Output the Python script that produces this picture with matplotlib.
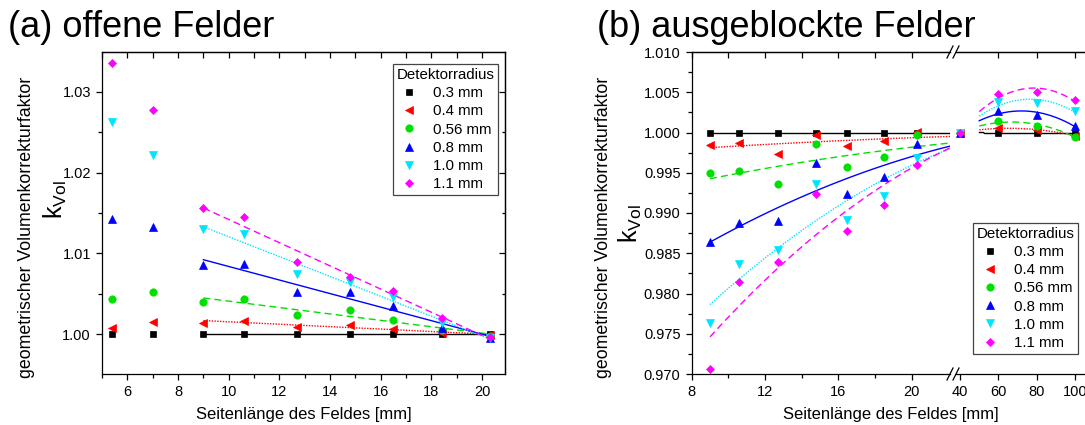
import numpy as np
import matplotlib
matplotlib.use('Agg')
import matplotlib.pyplot as plt
from matplotlib.lines import Line2D
from matplotlib.ticker import MultipleLocator, FixedLocator

plt.rcParams['font.family'] = ['Liberation Sans', 'DejaVu Sans']
plt.rcParams['mathtext.default'] = 'regular'
plt.rcParams['axes.linewidth'] = 0.9

# (a) offene Felder
x_a = [5.4, 7.0, 9.0, 10.6, 12.7, 14.8, 16.5, 18.4, 20.3]
k_a_03 = [1.00000, 1.00000, 1.00000, 1.00000, 1.00000, 1.00000, 1.00000, 1.00000, 1.00000]
k_a_04 = [1.00082, 1.00156, 1.00144, 1.00168, 1.00094, 1.00119, 1.00066, 1.00020, 0.99985]
k_a_056 = [1.00437, 1.00523, 1.00403, 1.00437, 1.00243, 1.00300, 1.00177, 1.00050, 0.99980]
k_a_08 = [1.01425, 1.01322, 1.00861, 1.00870, 1.00523, 1.00523, 1.00347, 1.00078, 0.99960]
k_a_10 = [1.02621, 1.02213, 1.01300, 1.01239, 1.00742, 1.00644, 1.00465, 1.00136, 0.99950]
k_a_11 = [1.03351, 1.02770, 1.01557, 1.01446, 1.00891, 1.00709, 1.00535, 1.00198, 0.99965]

# (b) ausgeblockte Felder
x_b = [9.0, 10.6, 12.7, 14.8, 16.5, 18.5, 20.3, 40, 60, 80, 100]
k_b_03 = [1.00000, 1.00000, 1.00000, 1.00000, 1.00000, 1.00000, 1.00000, 1.00000, 1.00000, 1.00000, 1.00000]
k_b_04 = [0.99842, 0.99875, 0.99730, 0.99967, 0.99834, 0.99896, 1.00010, 1.00000, 1.00055, 1.00030, 0.99960]
k_b_056 = [0.99500, 0.99521, 0.99355, 0.99863, 0.99575, 0.99700, 0.99967, 1.00000, 1.00138, 1.00084, 0.99946]
k_b_08 = [0.98634, 0.98875, 0.98896, 0.99625, 0.99230, 0.99446, 0.99854, 1.00000, 1.00263, 1.00220, 1.00080]
k_b_10 = [0.97634, 0.98363, 0.98542, 0.99363, 0.98909, 0.99209, 0.99688, 1.00000, 1.00375, 1.00367, 1.00263]
k_b_11 = [0.97063, 0.98146, 0.98396, 0.99242, 0.98771, 0.99105, 0.99596, 1.00000, 1.00480, 1.00500, 1.00400]

labels = ['0.3 mm', '0.4 mm', '0.56 mm', '0.8 mm', '1.0 mm', '1.1 mm']
colors = ['#000000', '#ff0000', '#00e000', '#0000ff', '#00e5ff', '#ff00ff']
markers = ['s', '<', 'o', '^', 'v', 'D']
msizes = [4.3, 6.0, 5.3, 6.0, 6.0, 4.4]
lstyles = ['-', (0, (1, 1)), (0, (5, 3)), '-', (0, (1, 1)), (0, (5, 3))]

series_a = [k_a_03, k_a_04, k_a_056, k_a_08, k_a_10, k_a_11]
series_b = [k_b_03, k_b_04, k_b_056, k_b_08, k_b_10, k_b_11]

W, H = 1085, 425
fig = plt.figure(figsize=(W / 100, H / 100), dpi=100)

def px_rect(x0, y0, x1, y1):
    return [x0 / W, 1 - y1 / H, (x1 - x0) / W, (y1 - y0) / H]

ax_a = fig.add_axes(px_rect(102, 52, 505, 374))
ax_b1 = fig.add_axes(px_rect(691.7, 52, 950, 374))
ax_b2 = fig.add_axes(px_rect(956, 52, 1090, 374))

tick_kw = dict(labelsize=10.5, width=0.9)

def mirror_x(ax, major, minor):
    top = ax.secondary_xaxis('top')
    top.xaxis.set_major_locator(FixedLocator(major))
    top.xaxis.set_minor_locator(FixedLocator(minor))
    top.tick_params(which='both', direction='in', labeltop=False, width=0.9)
    top.tick_params(which='major', length=4.0)
    top.tick_params(which='minor', length=4.0)
    top.spines['top'].set_linewidth(0.9)

def mirror_y(ax, major, minor):
    r = ax.secondary_yaxis('right')
    r.yaxis.set_major_locator(FixedLocator(major))
    r.yaxis.set_minor_locator(FixedLocator(minor))
    r.tick_params(which='both', direction='in', labelright=False, width=0.9)
    r.tick_params(which='major', length=4.0)
    r.tick_params(which='minor', length=2.5)

# ---- panel (a)
xa = np.array(x_a)
for k, c, m, ms, ls in zip(series_a, colors, markers, msizes, lstyles):
    k = np.array(k)
    sel = xa >= 9
    p = np.polyfit(xa[sel], k[sel], 1)
    xf = np.linspace(9.0, 20.3, 50)
    ax_a.plot(xf, np.polyval(p, xf), color=c, ls=ls, lw=1.0, zorder=2)
for k, c, m, ms in zip(series_a, colors, markers, msizes):
    ax_a.plot(x_a, k, ls='none', marker=m, ms=ms, color=c, mec=c, mew=0.5, zorder=3)

ax_a.set_xlim(5.0, 20.9)
ax_a.set_ylim(0.99509, 1.0349)
ax_a.xaxis.set_major_locator(MultipleLocator(2))
ax_a.xaxis.set_minor_locator(MultipleLocator(1))
ax_a.yaxis.set_major_locator(MultipleLocator(0.01))
ax_a.yaxis.set_minor_locator(MultipleLocator(0.005))
ax_a.yaxis.set_major_formatter(plt.FuncFormatter(lambda v, p: '%.2f' % v))
ax_a.tick_params(which='both', direction='out', **tick_kw)
ax_a.tick_params(which='major', length=4.5)
ax_a.tick_params(which='minor', length=3)
mirror_x(ax_a, np.arange(6, 21, 2), np.arange(5, 21, 2))
mirror_y(ax_a, [1.00, 1.01, 1.02, 1.03], [0.995, 1.005, 1.015, 1.025])

# ---- panel (b), broken x axis
xb = np.array(x_b)
for k, c, m, ms, ls in zip(series_b, colors, markers, msizes, lstyles):
    k = np.array(k)
    sel1 = xb <= 40
    p1 = np.polyfit(xb[sel1], k[sel1], 2)
    xf1 = np.linspace(9.0, 22.1, 60)
    ax_b1.plot(xf1, np.polyval(p1, xf1), color=c, ls=ls, lw=1.0, zorder=2)
    sel2 = xb >= 40
    p2 = np.polyfit(xb[sel2], k[sel2], 2)
    xf2 = np.linspace(50, 100, 60)
    ax_b2.plot(xf2, np.polyval(p2, xf2), color=c, ls=ls, lw=1.0, zorder=2)
for k, c, m, ms in zip(series_b, colors, markers, msizes):
    for ax in (ax_b1, ax_b2):
        ax.plot(x_b, k, ls='none', marker=m, ms=ms, color=c, mec=c, mew=0.5,
                zorder=3, clip_on=True)

for ax in (ax_b1, ax_b2):
    ax.set_ylim(0.970, 1.010)
    ax.yaxis.set_major_locator(MultipleLocator(0.005))
    ax.yaxis.set_minor_locator(MultipleLocator(0.0025))
    ax.tick_params(which='both', direction='out', **tick_kw)
    ax.tick_params(which='major', length=4.5)
    ax.tick_params(which='minor', length=3)

ax_b1.set_xlim(8.0, 22.1)
ax_b1.xaxis.set_major_locator(FixedLocator([8, 12, 16, 20]))
ax_b1.xaxis.set_minor_locator(FixedLocator([10, 14, 18]))
ax_b1.yaxis.set_major_formatter(plt.FuncFormatter(lambda v, p: '%.3f' % v))
ax_b1.spines['right'].set_visible(False)
mirror_x(ax_b1, [8, 10, 12, 14, 16, 18, 20], [])

ax_b2.set_xlim(37.9, 107.6)
ax_b2.xaxis.set_major_locator(FixedLocator([40, 60, 80, 100]))
ax_b2.spines['left'].set_visible(False)
ax_b2.tick_params(axis='y', which='both', left=False, labelleft=False)
mirror_x(ax_b2, [60, 80, 100], [])

# break marks
for bx in (950, 956):
    for by in (52, 374):
        fig.add_artist(Line2D([(bx - 3) / W, (bx + 3) / W],
                              [1 - (by + 6) / H, 1 - (by - 6) / H],
                              color='black', lw=0.9))

# ---- texts
fig.text(8 / W, 1 - 37 / H, '(a) offene Felder', fontsize=26, ha='left', va='baseline')
fig.text(597 / W, 1 - 37 / H, '(b) ausgeblockte Felder', fontsize=26, ha='left', va='baseline')

fig.text(303.5 / W, 1 - 415 / H, 'Seitenlänge des Feldes [mm]', fontsize=12, ha='center', va='center')
fig.text(891 / W, 1 - 415 / H, 'Seitenlänge des Feldes [mm]', fontsize=12, ha='center', va='center')

ylab = 'geometrischer Volumenkorrekturfaktor'
fig.text(27 / W, 1 - 227 / H, ylab, fontsize=12.8, rotation=90, ha='center', va='center')
fig.text(603 / W, 1 - 227 / H, ylab, fontsize=12.8, rotation=90, ha='center', va='center')
fig.text(55 / W, 1 - 200 / H, r'$k_{Vol}$', fontsize=18, rotation=90, ha='center', va='center')
fig.text(630 / W, 1 - 224 / H, r'$k_{Vol}$', fontsize=18, rotation=90, ha='center', va='center')

# ---- legends
handles = [Line2D([], [], ls='none', marker=m, ms=ms, color=c, mec=c, mew=0.5)
           for c, m, ms in zip(colors, markers, msizes)]
leg_kw = dict(title='Detektorradius', fontsize=10.8, title_fontsize=10.8, loc='upper left',
              frameon=True, fancybox=False, edgecolor='#444444', framealpha=1,
              handlelength=1.4, handletextpad=0.9, borderpad=0.25, labelspacing=0.28,
              numpoints=1, borderaxespad=0)
leg = fig.legend(handles, labels, bbox_to_anchor=(392.7 / W, 1 - 64.3 / H), **leg_kw)
leg.get_frame().set_linewidth(0.9)
leg2 = fig.legend(handles, labels, bbox_to_anchor=(973 / W, 1 - 223 / H), **leg_kw)
leg2.get_frame().set_linewidth(0.9)

fig.savefig('out.png', dpi=100)
